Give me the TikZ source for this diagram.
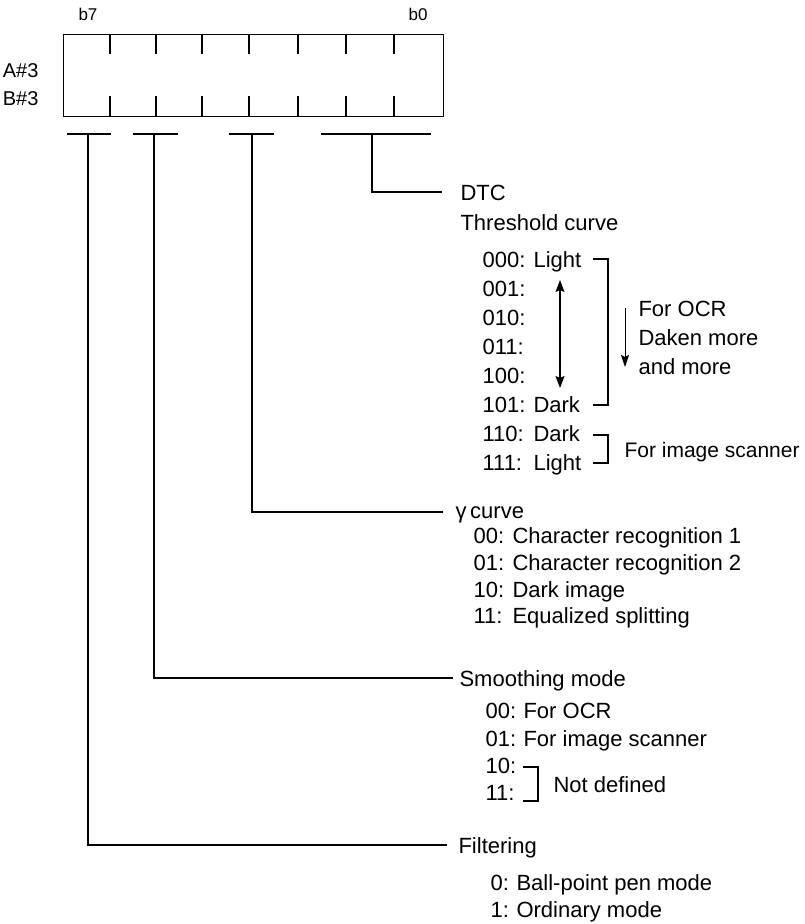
\documentclass[tikz,border=0pt]{standalone}
\usepackage{fontspec}
\setmainfont{Liberation Sans}
\usetikzlibrary{arrows.meta, positioning}

\begin{document}
\begin{tikzpicture}[
    x=1pt, y=-1pt,
    line width=1.1pt,
    every node/.style={inner sep=0pt, font=\fontsize{22}{26}\selectfont},
    txt/.style={anchor=base west},
    bitlbl/.style={anchor=base, font=\fontsize{17}{20}\selectfont},
    reglbl/.style={anchor=base east, font=\fontsize{20}{24}\selectfont},
    regbox/.style={draw, line width=1.1pt, minimum width=380pt, minimum height=82pt, anchor=north west},
    arrow/.style={-{Stealth[length=12pt,width=8pt,inset=2pt]}, line width=1pt},
    dblarrow/.style={{Stealth[length=12pt,width=9pt,inset=2pt]}-{Stealth[length=12pt,width=9pt,inset=2pt]}, line width=1.1pt}
]
\useasboundingbox (0,0) rectangle (804,924);

% register
\node[regbox] (reg) at (63,34) {};
\foreach \x in {110,156,202,249,298,346,394} {
    \draw (\x,34) -- (\x,54);
    \draw (\x,96) -- (\x,116);
}
\node[bitlbl] (b7) at (88,20) {b7};
\node[bitlbl] (b0) at (418,20) {b0};
\node[reglbl] (ra) at (39,77) {A\#3};
\node[reglbl] (rb) at (39,105) {B\#3};

% field bars
\draw (67,134) -- (111,134);
\draw (133,134) -- (178,134);
\draw (229,134) -- (274,134);
\draw (321,134) -- (431,134);
\coordinate (bfilt) at (88,134);
\coordinate (bsmooth) at (154,134);
\coordinate (bgamma) at (252,134);
\coordinate (bdtc) at (372,134);

\coordinate (edtc) at (442,192);
\coordinate (egamma) at (443,512);
\coordinate (esmooth) at (453,678);
\coordinate (efilt) at (447,845);

\draw (bdtc) |- (edtc);
\draw (bgamma) |- (egamma);
\draw (bsmooth) |- (esmooth);
\draw (bfilt) |- (efilt);

% DTC
\node[txt] (dtc) at (460,200) {DTC};
\node[txt] (thr) at (460,230) {Threshold curve};
\node[txt] (c000) at (482,267) {000:};
\node[txt] (c001) at (482,296) {001:};
\node[txt] (c010) at (482,325) {010:};
\node[txt] (c011) at (482,354) {011:};
\node[txt] (c100) at (482,383) {100:};
\node[txt] (c101) at (482,412) {101:};
\node[txt] (c110) at (482,441) {110:};
\node[txt] (c111) at (482,470) {111:};
\node[txt] (t000) at (533,267) {Light};
\node[txt] (t101) at (533,412) {Dark};
\node[txt] (t110) at (533,441) {Dark};
\node[txt] (t111) at (533,470) {Light};
\coordinate (up) at (560,280);
\coordinate (dn) at (560,388);
\draw[dblarrow] (up) -- (dn);
\draw (593,259) -- (608,259) -- (608,405) -- (593,405);
\coordinate (ocrtop) at (625,308);
\coordinate (ocrbot) at (625,367);
\draw[arrow] (ocrtop) -- (ocrbot);
\node[txt] (ocr1) at (638,316) {For OCR};
\node[txt] (ocr2) at (638,345) {Daken more};
\node[txt] (ocr3) at (638,374) {and more};
\draw (593,435) -- (608,435) -- (608,463) -- (593,463);
\node[txt, font=\fontsize{21}{25}\selectfont] (scan) at (624,457) {For image scanner};

% gamma curve
\node[txt] (gam) at (455,518) {γ\,curve};
\node[txt] (g00) at (473,543) {00:};
\node[txt] (g01) at (473,570) {01:};
\node[txt] (g10) at (473,597) {10:};
\node[txt] (g11) at (473,623) {11:};
\node[txt] (gt00) at (512,543) {Character recognition 1};
\node[txt] (gt01) at (512,570) {Character recognition 2};
\node[txt] (gt10) at (512,597) {Dark image};
\node[txt] (gt11) at (512,623) {Equalized splitting};

% smoothing mode
\node[txt] (smo) at (459,686) {Smoothing mode};
\node[txt] (s00) at (485,718) {00:};
\node[txt] (s01) at (485,746) {01:};
\node[txt] (s10) at (485,773) {10:};
\node[txt] (s11) at (485,800) {11:};
\node[txt] (st00) at (523,718) {For OCR};
\node[txt] (st01) at (523,746) {For image scanner};
\draw (523,767) -- (538,767) -- (538,801) -- (523,801);
\node[txt] (nodef) at (553,792) {Not defined};

% filtering
\node[txt] (fil) at (458,853) {Filtering};
\node[txt] (f0) at (490,890) {0:};
\node[txt] (f1) at (490,917) {1:};
\node[txt] (ft0) at (516,890) {Ball-point pen mode};
\node[txt] (ft1) at (516,917) {Ordinary mode};
\end{tikzpicture}
\end{document}
